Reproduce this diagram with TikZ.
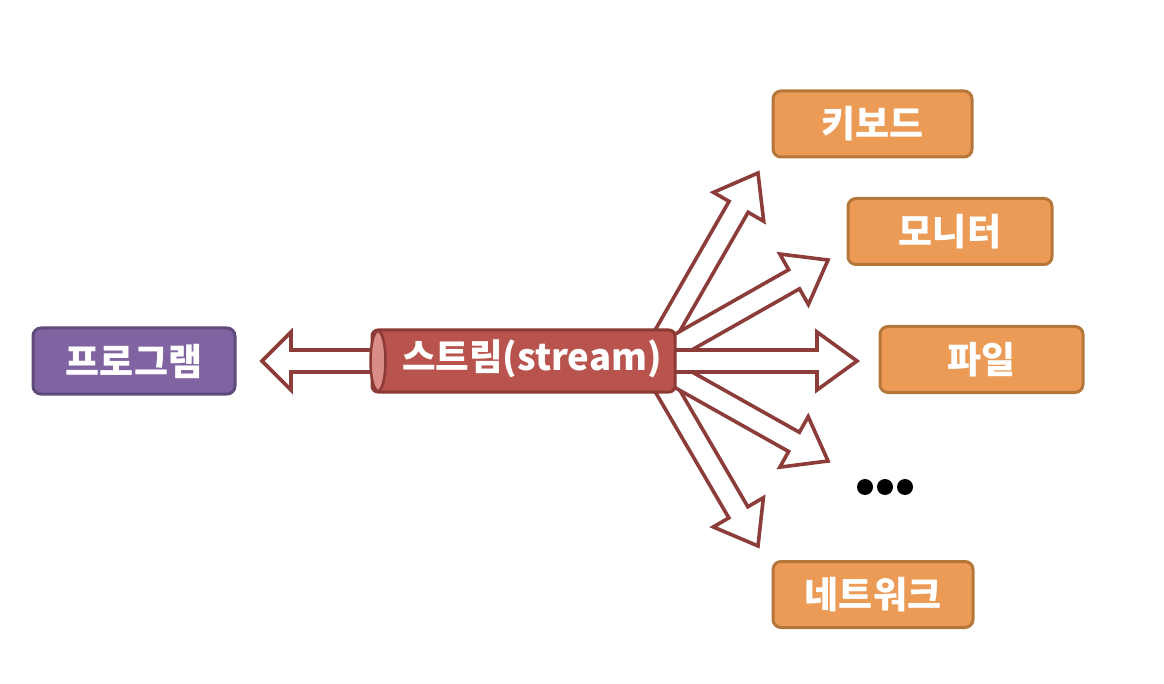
\documentclass[tikz,border=0pt]{standalone}
\usepackage{fontspec}
\newfontfamily\kr{Noto Sans CJK KR}
\usetikzlibrary{calc}
\definecolor{arrline}{HTML}{8C3D3A}
\definecolor{purfill}{HTML}{8064A2}
\definecolor{purline}{HTML}{5E4A7D}
\definecolor{redfill}{HTML}{B9534E}
\definecolor{redline}{HTML}{8C3A36}
\definecolor{capfill}{HTML}{D98C88}
\definecolor{orfill}{HTML}{EB9B55}
\definecolor{orline}{HTML}{B5763A}
\tikzset{
  box/.style={rounded corners=8pt, line width=3pt, minimum height=66pt, inner sep=0pt,
    text=white, font=\kr\bfseries\fontsize{37}{40}\selectfont},
  progbox/.style={box, fill=purfill, draw=purline},
  outbox/.style={box, fill=orfill, draw=orline},
  streambox/.style={rounded corners=6pt, line width=3pt, fill=redfill, draw=redline, inner sep=0pt},
  streamtext/.style={text=white, font=\kr\bfseries\fontsize{36.5}{40}\selectfont, inner sep=0pt},
  fatstyle/.style={draw=arrline, fill=white, line width=3.6pt, line join=miter},
}
% #1 origin, #2 tip, #3 head length
\newcommand\fatarr[3]{%
  \coordinate (fa-b) at ($(#2)!#3!(#1)$);
  \draw[fatstyle] ($(#1)!11pt!90:(#2)$) -- ($(fa-b)!11pt!90:(#2)$) -- ($(fa-b)!29pt!90:(#2)$)
    -- (#2) -- ($(fa-b)!29pt!-90:(#2)$) -- ($(fa-b)!11pt!-90:(#2)$) -- ($(#1)!11pt!-90:(#2)$) -- cycle;
}
\begin{document}
\begin{tikzpicture}[x=1pt,y=-1pt]
\path[use as bounding box] (0,0) rectangle (1164,684);

% fan arrows
\coordinate (fo) at (650,361);
\coordinate (t1) at (758,173);
\coordinate (t2) at (828,260);
\coordinate (t3) at (857,361);
\coordinate (t4) at (828,461);
\coordinate (t5) at (758,546);
\fatarr{fo}{t1}{39pt}
\fatarr{fo}{t5}{39pt}
\fatarr{fo}{t2}{39pt}
\fatarr{fo}{t4}{39pt}
\fatarr{fo}{t3}{40pt}

% program
\node[progbox, minimum width=202pt] (prog) at (134,361) {프로그램};

% left arrow
\coordinate (lo) at (385,361);
\coordinate (lt) at (262,361);
\fatarr{lo}{lt}{29pt}

% stream cylinder
\node[streambox, minimum width=303pt, minimum height=62pt] (stream) at (523.5,361) {};
\draw[line width=2.5pt, draw=redline, fill=capfill] ([xshift=7.5pt]stream.west) ellipse [x radius=7.5pt, y radius=30pt];
\node[streamtext] (stxt) at (532,359) {스트림(stream)};

% outputs
\node[outbox, minimum width=199pt] (kb) at (872.5,124) {키보드};
\node[outbox, minimum width=204pt] (mon) at (950,231.5) {모니터};
\node[outbox, minimum width=203pt] (file) at (981.5,359.5) {파일};
\node[outbox, minimum width=200pt] (net) at (873,594.5) {네트워크};

% dots
\fill[black] (865,487) circle (8pt) (885,487) circle (8pt) (905,487) circle (8pt);
\end{tikzpicture}
\end{document}
